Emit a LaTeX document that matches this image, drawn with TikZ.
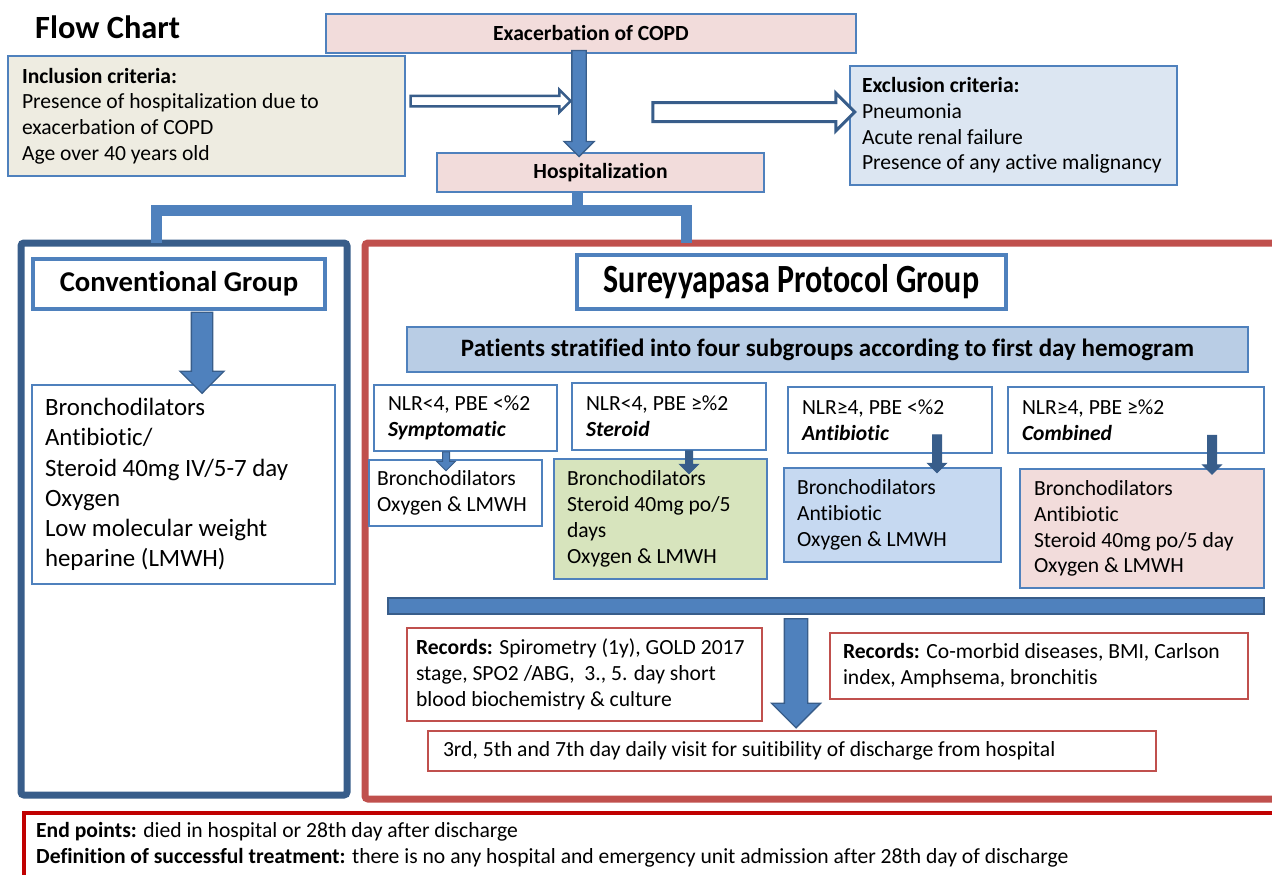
\documentclass[tikz,border=0pt]{standalone}
\usepackage{fontspec}
\setmainfont{Carlito}[Ligatures=NoCommon]
\newfontfamily\narrowfont[FakeStretch=0.8,Ligatures=NoCommon]{Carlito}
\usetikzlibrary{shapes.arrows,positioning}
\hyphenpenalty=10000
\exhyphenpenalty=10000

\definecolor{edgeblue}{HTML}{4F81BD}
\definecolor{darkblue}{HTML}{385D8A}
\definecolor{copdpink}{HTML}{F2DCDB}
\definecolor{beige}{HTML}{EEECE1}
\definecolor{paleblue}{HTML}{DCE6F2}
\definecolor{stratblue}{HTML}{B9CDE5}
\definecolor{steroidgreen}{HTML}{D7E4BD}
\definecolor{abblue}{HTML}{C6D9F1}
\definecolor{recred}{HTML}{C0504D}
\definecolor{endred}{HTML}{C00000}

\newcommand{\txtsize}{\fontsize{21.6}{25.8}\selectfont}
\newcommand{\bigsize}{\fontsize{24.9}{30.2}\selectfont}

\tikzset{
  box/.style={draw=edgeblue, line width=1.5pt, rectangle, inner sep=0pt, align=flush left, font=\txtsize},
  titlebox/.style={draw=edgeblue, line width=4.5pt, fill=white, rectangle, inner sep=0pt},
  recbox/.style={draw=recred, line width=1.5pt, rectangle, inner sep=0pt, align=flush left, font=\txtsize},
  frame/.style={line width=7pt, rectangle, inner sep=0pt, rounded corners=3pt},
  blockarrow/.style={single arrow, draw=darkblue, fill=edgeblue, line width=1.3pt,
    single arrow head indent=0pt, shape border rotate=270},
  hollowarrow/.style={single arrow, draw=darkblue, fill=white,
    single arrow head indent=0pt},
  feed/.style={edgeblue, line width=11pt}
}

\begin{document}
\begin{tikzpicture}[x=1pt,y=-1pt]
  \useasboundingbox (0,0) rectangle (1272,875);
  \clip (0,0) rectangle (1272,875);

  % groups
  \node[frame, draw=darkblue, minimum width=326pt, minimum height=552pt] (convgroup) at (184,519) {};
  \node[frame, draw=recred, minimum width=925pt, minimum height=556pt] (protgroup) at (827.5,521) {};

  % split from hospitalization
  \coordinate (split) at (577,210);
  \draw[feed] (split |- 0,192) -- (split);
  \draw[feed] (156,243) -- (156,210) -- (686,210) -- (686,243);

  \node[font=\bfseries\fontsize{32.4}{38}\selectfont, anchor=west, inner sep=0pt] (title) at (35,27) {Flow Chart};

  \node[box, fill=copdpink, align=center, minimum width=530pt, minimum height=39pt, font=\bfseries\txtsize] (copd) at (591,33.5) {Exacerbation of COPD};
  \node[box, fill=copdpink, align=center, minimum width=327pt, minimum height=39pt, font=\bfseries\txtsize] (hosp) at (600.5,172.5) {Hospitalization};

  \node[box, fill=beige, minimum width=397pt, minimum height=120pt, text width=369pt] (incl) at (206.5,116)
    {\textbf{Inclusion criteria:}\\ Presence of hospitalization due to\\ exacerbation of COPD\\ Age over 40 years old};
  \node[box, fill=paleblue, minimum width=327pt, minimum height=119pt, text width=303pt] (excl) at (1013.5,125.5)
    {\textbf{Exclusion criteria:}\\ Pneumonia\\ Acute renal failure\\ Presence of any active malignancy};

  \node[blockarrow, inner sep=6.5pt, single arrow head extend=8pt, minimum height=106pt] (copdarrow) at (579,100) {};
  \node[hollowarrow, line width=2.5pt, inner sep=4pt, single arrow head extend=6pt, minimum height=160pt] (inarrow) at (488,101) {};
  \node[hollowarrow, line width=3pt, inner sep=8pt, single arrow head extend=9.5pt, minimum height=202pt] (outarrow) at (749,112) {};

  % conventional group
  \node[titlebox, minimum width=292pt, minimum height=50pt, font=\bfseries\fontsize{28.7}{34}\selectfont] (convtitle) at (179,284) {Conventional Group};
  \node[box, minimum width=303pt, minimum height=199pt, text width=277pt, font=\bigsize] (convbody) at (183.5,484.5)
    {Bronchodilators\\ Antibiotic/\\ Steroid 40mg IV/5-7 day\\ Oxygen\\ Low molecular weight\\ heparine (LMWH)};
  \node[blockarrow, inner sep=10pt, single arrow head extend=11.5pt, minimum height=81pt] (convarrow) at (202,347.5) {};

  % protocol group
  \node[titlebox, minimum width=429pt, minimum height=54pt, font=\narrowfont\bfseries\fontsize{40}{46}\selectfont] (prottitle) at (791.5,282) {Sureyyapasa Protocol Group};
  \node[box, fill=stratblue, align=center, minimum width=841pt, minimum height=45pt, font=\bfseries\fontsize{25}{30}\selectfont] (strat) at (827.5,349.5)
    {Patients stratified into four subgroups according to first day hemogram};

  \node[box, fill=white, minimum width=183pt, minimum height=66pt, text width=155pt] (crita) at (465.5,418) {NLR<4, PBE <\%2\\ \textbf{\textit{Symptomatic}}};
  \node[box, fill=white, minimum width=194pt, minimum height=67pt, text width=166pt] (critb) at (669,416.5) {NLR<4, PBE ≥\%2\\ \textbf{\textit{Steroid}}};
  \node[box, fill=white, minimum width=204pt, minimum height=66pt, text width=176pt] (critc) at (890,420) {NLR≥4, PBE <\%2\\ \textbf{\textit{Antibiotic}}};
  \node[box, fill=white, minimum width=256pt, minimum height=66pt, text width=228pt] (critd) at (1136,420) {NLR≥4, PBE ≥\%2\\ \textbf{\textit{Combined}}};

  \node[box, fill=white, minimum width=173pt, minimum height=66pt, text width=157pt] (treata) at (455.5,493) {Bronchodilators\\ Oxygen \& LMWH};
  \node[box, fill=steroidgreen, minimum width=213pt, minimum height=120pt, text width=187pt] (treatb) at (660.5,519) {Bronchodilators\\ Steroid 40mg po/5\\ days\\ Oxygen \& LMWH};
  \node[box, fill=abblue, minimum width=217pt, minimum height=94pt, text width=191pt] (treatc) at (892.5,515) {Bronchodilators\\ Antibiotic\\ Oxygen \& LMWH};
  \node[box, fill=copdpink, minimum width=244pt, minimum height=119pt, text width=216pt] (treatd) at (1142,528.5) {Bronchodilators\\ Antibiotic\\ Steroid 40mg po/5 day\\ Oxygen \& LMWH};

  \node[blockarrow, line width=1pt, inner sep=3pt, single arrow head extend=6pt, minimum height=19pt] (arra) at (446,459.5) {};
  \node[blockarrow, line width=1pt, fill=darkblue, inner sep=3pt, single arrow head extend=6pt, minimum height=23pt] (arrb) at (689,460.5) {};
  \node[blockarrow, line width=1pt, fill=darkblue, inner sep=4pt, single arrow head extend=5pt, minimum height=38pt] (arrc) at (937,451.5) {};
  \node[blockarrow, line width=1pt, fill=darkblue, inner sep=4pt, single arrow head extend=5pt, minimum height=39pt] (arrd) at (1212,452.5) {};

  \node[draw=darkblue, fill=edgeblue, line width=1.5pt, inner sep=0pt, minimum width=876pt, minimum height=16pt] (bar) at (826,606) {};
  \node[blockarrow, inner sep=11pt, single arrow head extend=13pt, minimum height=109pt] (bararrow) at (796,667.5) {};

  \node[recbox, fill=white, minimum width=355pt, minimum height=93pt, text width=337pt] (reca) at (584.5,674.5)
    {\textbf{Records:} Spirometry (1y), GOLD 2017\\ stage, SPO2 /ABG,~ 3., 5. day short\\ blood biochemistry \& culture};
  \node[recbox, fill=white, minimum width=418pt, minimum height=66pt, text width=392pt] (recb) at (1039,666)
    {\textbf{Records:} Co-morbid diseases, BMI, Carlson\\ index, Amphsema, bronchitis};
  \node[recbox, fill=white, minimum width=728pt, minimum height=40pt, text width=698pt] (visit) at (792,751)
    {3rd, 5th and 7th day daily visit for suitibility of discharge from hospital};

  % end points
  \node[draw=endred, line width=4pt, anchor=north west, inner sep=0pt, minimum width=1268pt, minimum height=100pt] (endbox) at (22,811) {};
  \node[anchor=north west, inner sep=0pt, align=flush left, font=\txtsize] (endtext) at (36,822)
    {\textbf{End points:} died in hospital or 28th day after discharge\\ \textbf{Definition of successful treatment:} there is no any hospital and emergency unit admission after 28th day of discharge};
\end{tikzpicture}
\end{document}
